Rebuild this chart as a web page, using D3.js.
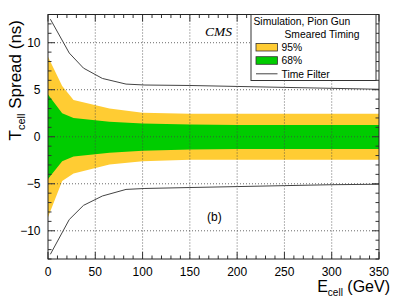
<!DOCTYPE html>
<html>
<head>
<meta charset="utf-8">
<script src="https://cdn.jsdelivr.net/npm/d3@7"></script>
<style>
  body { margin: 0; background: #fff; }
  svg { font-family: "Liberation Sans", Arial, sans-serif; }
</style>
</head>
<body>
<svg id="vis" width="399" height="299"></svg>
<script>
// Datos
const E_BANDA = [0, 15, 27, 65, 100, 150, 200, 250, 300, 350];
const SUP_95 = [8.5, 5.4, 3.9, 3.0, 2.55, 2.45, 2.45, 2.45, 2.45, 2.45];
const INF_95 = [-8.55, -4.7, -3.9, -2.95, -2.6, -2.45, -2.45, -2.45, -2.45, -2.45];
const SUP_68 = [4.5, 2.5, 2.0, 1.6, 1.4, 1.3, 1.25, 1.25, 1.25, 1.25];
const INF_68 = [-4.5, -2.6, -2.1, -1.7, -1.5, -1.35, -1.3, -1.3, -1.3, -1.3];

const E_FILTRO = [2.5, 22.5, 37.5, 57.5, 82.5, 102.5, 150, 200, 250, 300, 350];
const FILTRO_SUP = [12.5, 8.9, 7.3, 6.2, 5.6, 5.5, 5.45, 5.35, 5.25, 5.15, 5.05];
const FILTRO_INF = [-12.5, -8.8, -7.3, -6.3, -5.6, -5.5, -5.4, -5.3, -5.2, -5.1, -5.05];

const TICKS_X = [0, 50, 100, 150, 200, 250, 300, 350];
const TICKS_Y = [-10, -5, 0, 5, 10];

const SVG = d3.select("#vis");
const M = { izq: 48, der: 379, arr: 14.5, abj: 259 };

const x = d3.scaleLinear().domain([0, 350]).range([M.izq, M.der]);
const y = d3.scaleLinear().domain([-13, 13]).range([M.abj, M.arr]);

const AMARILLO = "#ffcc33";
const VERDE = "#00cc00";

// Bandas
function banda(sup, inf) {
  const pts = E_BANDA.map((e, i) => ({ e, s: sup[i], i: inf[i] }));
  return d3.area().x(d => x(d.e)).y0(d => y(d.i)).y1(d => y(d.s))(pts);
}
SVG.append("path").attr("d", banda(SUP_95, INF_95)).attr("fill", AMARILLO);
SVG.append("path").attr("d", banda(SUP_68, INF_68)).attr("fill", VERDE);

// Rejilla punteada encima de las bandas
const rejilla = SVG.append("g").attr("stroke", "#444").attr("stroke-width", 0.8)
  .attr("stroke-dasharray", "1,2");
TICKS_X.slice(1, -1).forEach(t => {
  rejilla.append("line").attr("x1", x(t)).attr("x2", x(t)).attr("y1", M.arr).attr("y2", M.abj);
});
TICKS_Y.forEach(t => {
  rejilla.append("line").attr("x1", M.izq).attr("x2", M.der).attr("y1", y(t)).attr("y2", y(t));
});

// Líneas del filtro de tiempo
const linea = d3.line().x(d => x(d[0])).y(d => y(d[1]));
[FILTRO_SUP, FILTRO_INF].forEach(serie => {
  SVG.append("path")
    .attr("d", linea(E_FILTRO.map((e, i) => [e, serie[i]])))
    .attr("fill", "none").attr("stroke", "#444").attr("stroke-width", 1);
});

// Ejes estilo ROOT: ticks hacia adentro en los cuatro lados
const ejes = SVG.append("g").attr("stroke", "#333").attr("stroke-width", 1);
d3.range(0, 351, 10).forEach(v => {
  const largo = v % 50 === 0 ? 7 : 3.5;
  ejes.append("line").attr("x1", x(v)).attr("x2", x(v)).attr("y1", M.abj).attr("y2", M.abj - largo);
  ejes.append("line").attr("x1", x(v)).attr("x2", x(v)).attr("y1", M.arr).attr("y2", M.arr + largo);
});
d3.range(-13, 14, 1).forEach(v => {
  const largo = v % 5 === 0 ? 7 : 3.5;
  ejes.append("line").attr("x1", M.izq).attr("x2", M.izq + largo).attr("y1", y(v)).attr("y2", y(v));
  ejes.append("line").attr("x1", M.der).attr("x2", M.der - largo).attr("y1", y(v)).attr("y2", y(v));
});
SVG.append("rect")
  .attr("x", M.izq).attr("y", M.arr)
  .attr("width", M.der - M.izq).attr("height", M.abj - M.arr)
  .attr("fill", "none").attr("stroke", "#222").attr("stroke-width", 1);

// Etiquetas de ticks
SVG.selectAll(".tx").data(TICKS_X).join("text")
  .attr("class", "tx")
  .attr("x", d => x(d)).attr("y", 276)
  .attr("text-anchor", "middle").attr("font-size", 12)
  .text(d => d);
SVG.selectAll(".ty").data(TICKS_Y).join("text")
  .attr("class", "ty")
  .attr("x", 40.5).attr("y", d => y(d) + 4.3)
  .attr("text-anchor", "end").attr("font-size", 12)
  .text(d => d < 0 ? "\u2212" + Math.abs(d) : d);

// Títulos de ejes
const tx = SVG.append("text").attr("x", 390).attr("y", 292)
  .attr("text-anchor", "end").attr("font-size", 16);
tx.append("tspan").text("E");
tx.append("tspan").attr("font-size", 10).attr("dy", 4).text("cell");
tx.append("tspan").attr("dy", -4).text(" (GeV)");

const ty = SVG.append("text")
  .attr("transform", "translate(21,20) rotate(-90)")
  .attr("text-anchor", "end").attr("font-size", 17);
ty.append("tspan").text("T");
ty.append("tspan").attr("font-size", 11).attr("dy", 4).text("cell");
ty.append("tspan").attr("dy", -4).text(" Spread (ns)");

// Etiquetas internas
SVG.append("text").attr("x", 205).attr("y", 36)
  .attr("font-family", "Liberation Serif, Times New Roman, serif")
  .attr("font-style", "italic").attr("font-size", 13.5).text("CMS");
SVG.append("text").attr("x", 207).attr("y", 221).attr("font-size", 12).text("(b)");

// Leyenda
const ley = SVG.append("g");
ley.append("rect").attr("x", 251).attr("y", 14.5).attr("width", 125).attr("height", 66)
  .attr("fill", "#fff").attr("stroke", "#333").attr("stroke-width", 1);
ley.append("text").attr("x", 253.5).attr("y", 25).attr("font-size", 10.3).text("Simulation, Pion Gun");
ley.append("text").attr("x", 284.5).attr("y", 38).attr("font-size", 10.3).text("Smeared Timing");

const ENTRADAS = [
  { tipo: "caja", color: AMARILLO, etiqueta: "95%" },
  { tipo: "caja", color: VERDE, etiqueta: "68%" },
  { tipo: "linea", color: "#444", etiqueta: "Time Filter" }
];
const fila = ley.selectAll(".fila").data(ENTRADAS).join("g")
  .attr("class", "fila")
  .attr("transform", (d, i) => `translate(0, ${47.2 + i * 13.3})`);
fila.filter(d => d.tipo === "caja").append("rect")
  .attr("x", 256).attr("y", -3.8).attr("width", 21.5).attr("height", 7.6)
  .attr("fill", d => d.color).attr("stroke", "#333").attr("stroke-width", 0.8);
fila.filter(d => d.tipo === "linea").append("line")
  .attr("x1", 256).attr("x2", 277.5).attr("y1", 0).attr("y2", 0)
  .attr("stroke", d => d.color).attr("stroke-width", 1);
fila.append("text").attr("x", 281.5).attr("y", 3.7).attr("font-size", 10.3)
  .text(d => d.etiqueta);
</script>
</body>
</html>
